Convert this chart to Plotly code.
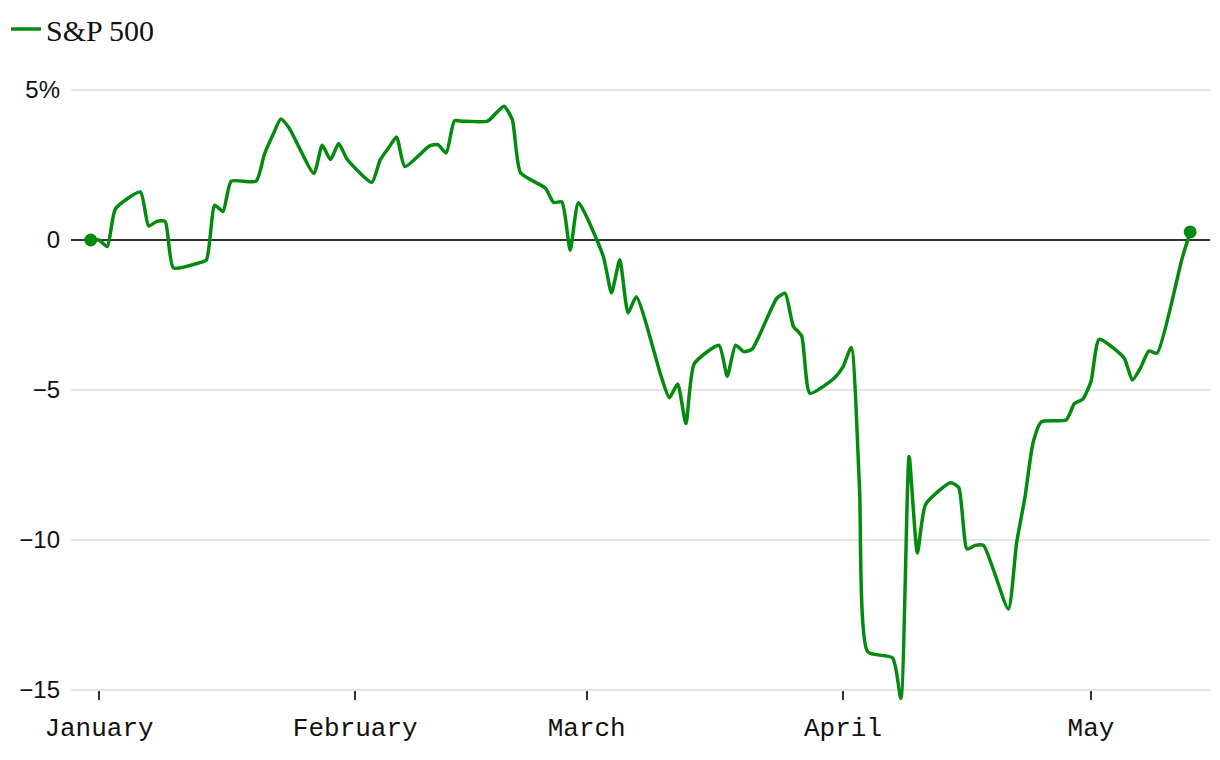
import pandas as pd
import plotly.graph_objects as go

# Business days from 2024-12-31 to 2025-05-13 (market holidays carry the prior close)
start_date = "2024-12-31"
end_date = "2025-05-13"

# S&P 500 change since Dec 31, 2024, in percent (one value per business day)
pct_change = [
    0.00,                                           # Dec 31
    0.00, -0.22, 1.04, 1.60, 0.47, 0.62, 0.62, -0.93, -0.77, -0.66,   # Jan 1-14
    1.16, 0.95, 1.96, 1.96, 2.85, 3.48, 4.03, 3.73, 2.22, 3.16,       # Jan 15-28
    2.68, 3.22, 2.70,                                                  # Jan 29-31
    1.92, 2.66, 3.06, 3.43, 2.45, 3.14, 3.18, 2.90, 3.97, 3.96,       # Feb 3-14
    3.96, 4.22, 4.46, 4.01, 2.24, 1.73, 1.25, 1.27, -0.34, 1.24,      # Feb 17-28
    -0.54, -1.76, -0.66, -2.43, -1.89, -4.54, -5.26, -4.80, -6.12, -4.13,  # Mar 3-14
    -3.51, -4.54, -3.51, -3.72, -3.64, -1.94, -1.78, -2.88, -3.20, -5.11,  # Mar 17-28
    -4.59,                                                             # Mar 31
    -4.23, -3.58, -8.25, -13.73, -13.93, -15.28, -7.22, -10.43, -8.81,    # Apr 1-11
    -8.09, -8.25, -10.30, -10.18, -10.18, -12.30, -10.10, -8.60, -6.75, -6.06,  # Apr 14-25
    -6.00, -5.45, -5.31,                                               # Apr 28-30
    -4.72, -3.31, -3.93, -4.67, -4.26, -3.70, -3.77, -0.64, 0.27,     # May 1-13
]

series_name = "S&P 500"
y_tick_values = [-15, -10, -5, 0, 5]
y_tick_labels = ["\u221215", "\u221210", "\u22125", "0", "5%"]
y_range = [-15.4, 5.3]
x_range = ["2024-12-28 14:43", "2025-05-15 09:36"]

dates = pd.bdate_range(start_date, end_date)

GREEN = "#058a10"

fig = go.Figure()
fig.add_trace(go.Scatter(
    x=dates, y=pct_change, mode="lines", name=series_name,
    line=dict(color=GREEN, width=3.5, shape="spline", smoothing=0.55),
    hoverinfo="skip",
))
fig.add_trace(go.Scatter(
    x=[dates[0], dates[-1]], y=[pct_change[0], pct_change[-1]], mode="markers",
    marker=dict(color=GREEN, size=13), showlegend=False, hoverinfo="skip",
    cliponaxis=False,
))

x_axis_pos = (y_tick_values[0] - y_range[0]) / (y_range[1] - y_range[0])

# page body has an 8px default margin, so the figure is sized to fit the window
fig.update_layout(
    width=1212, height=752,
    margin=dict(l=63, r=10, t=73, b=58, autoexpand=False),
    paper_bgcolor="white", plot_bgcolor="white",
    showlegend=True,
    legend=dict(
        xref="paper", yref="paper", x=-0.0571, y=1.1256,
        xanchor="left", yanchor="top", orientation="h",
        font=dict(family="Liberation Serif", size=30, color="#111"),
        bgcolor="rgba(0,0,0,0)", itemwidth=30,
    ),
    xaxis=dict(
        type="date", range=x_range, anchor="free", position=x_axis_pos,
        tick0="2025-01-01", dtick="M1", tickformat="%B",
        ticks="outside", ticklen=9, tickwidth=1.5, tickcolor="#333",
        showgrid=False, zeroline=False, showline=False,
        tickfont=dict(family="Liberation Mono", size=26, color="#111"),
        ticklabelstandoff=5,
    ),
    yaxis=dict(
        range=y_range, tickvals=y_tick_values, ticktext=y_tick_labels,
        showgrid=True, gridcolor="#e5e5e5", gridwidth=1.5,
        zeroline=True, zerolinecolor="#333", zerolinewidth=1.5,
        showline=False, ticks="",
        tickfont=dict(family="Liberation Sans", size=24, color="#111"),
        ticklabelstandoff=10,
    ),
)

fig.write_html("out.html")
